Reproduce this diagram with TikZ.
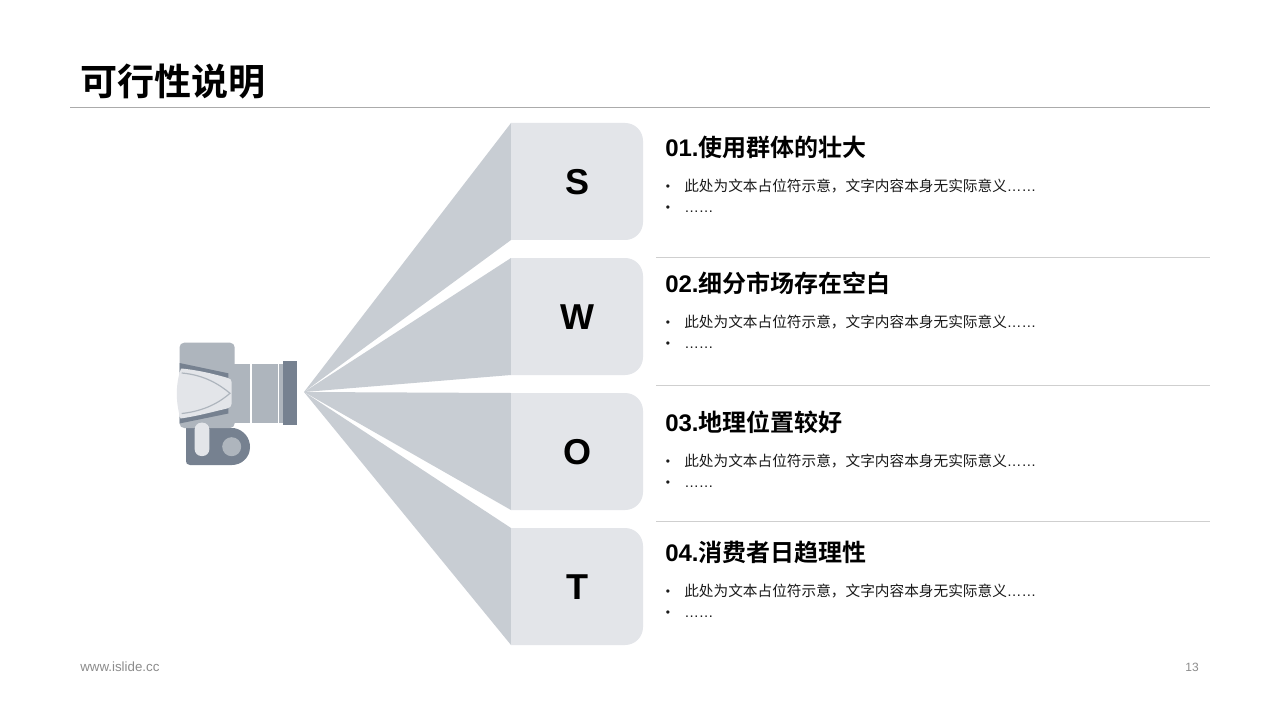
\documentclass[tikz,border=0pt]{standalone}
\usepackage{fontspec}
\setmainfont{Liberation Sans}
\newfontfamily\cjk{Noto Sans CJK SC}[BoldFont={Noto Sans CJK SC Bold}]
\definecolor{wedge}{HTML}{C8CDD3}
\definecolor{boxc}{HTML}{E3E5E9}
\definecolor{camlight}{HTML}{AEB5BD}
\definecolor{camdark}{HTML}{768190}
\definecolor{rulec}{HTML}{CFCFCF}
\definecolor{toprule}{HTML}{ABABAB}
\definecolor{txt}{HTML}{1A1A1A}
\definecolor{foot}{HTML}{8C8C8C}
\tikzset{
  x=0.75pt,y=-0.75pt,
  wedgeshape/.style={fill=wedge,draw=none},
  boxshape/.style={fill=boxc,draw=none},
  letter/.style={font=\bfseries\fontsize{27}{27}\selectfont,text=black,inner sep=0pt,anchor=center},
  heading/.style={font=\bfseries\fontsize{18}{18}\selectfont,text=black,inner sep=0pt,anchor=base west},
  body/.style={font=\fontsize{11}{12}\selectfont,text=txt,inner sep=0pt,anchor=base west},
  bulletmark/.style={font=\fontsize{9}{10}\selectfont,text=txt,inner sep=0pt,anchor=base west},
  footer/.style={font=\fontsize{10}{10}\selectfont,text=foot,inner sep=0pt,anchor=base west},
  rulel/.style={draw=rulec,line width=0.75pt},
}
\newcommand{\ph}{{\cjk 此处为文本占位符示意，文字内容本身无实际意义}……}
\begin{document}
\begin{tikzpicture}
\useasboundingbox (0,0) rectangle (1280,720);
\fill[white] (0,0) rectangle (1280,720);
% title
\node[inner sep=0pt,anchor=base west,font=\bfseries\fontsize{27.8}{28}\selectfont,text=black] (title) at (80,96) {\cjk 可行性说明};
\coordinate (tl) at (70,108); \coordinate (tr) at (1210,108);
\draw[draw=toprule,line width=0.75pt] (tl) -- (tr);
% wedges and boxes
\coordinate (apex) at (304,392);
\foreach \t/\b/\l/\n/\h/\hy in {
  123/240/S/s/{01.{\cjk 使用群体的壮大}}/157,
  258/375/W/w/{02.{\cjk 细分市场存在空白}}/292,
  393/510/O/o/{03.{\cjk 地理位置较好}}/431,
  528/645/T/t/{04.{\cjk 消费者日趋理性}}/561}{
  \fill[wedgeshape] (apex) -- (511,\t) -- (511,\b) -- cycle;
  \fill[boxshape] (511,\t) -- (625,\t) .. controls (635,\t) and (643,\t+8) .. (643,\t+18) -- (643,\b-18) .. controls (643,\b-8) and (635,\b) .. (625,\b) -- (511,\b) -- cycle;
  \node[letter] (\n box) at (577,{(\t+\b)/2+1}) {\l};
  \node[heading] (\n head) at (665,\hy) {\h};
  \node[bulletmark] (\n b1) at (665.5,\hy+34) {•};
  \node[body] (\n t1) at (684,\hy+35) {\ph};
  \node[bulletmark] (\n b2) at (665.5,\hy+55) {•};
  \node[body] (\n t2) at (684,\hy+56) {……};
}
% separators
\draw[rulel] (656,257.5) coordinate (a1) -- (1210,257.5) coordinate (a2);
\draw[rulel] (656,385) coordinate (b1) -- (1210,385) coordinate (b2);
\draw[rulel] (656,521) coordinate (c1) -- (1210,521) coordinate (c2);
% camera
\fill[camdark] (186,428) -- (234,428) .. controls (244,430) and (250,438) .. (250,447) .. controls (250,458) and (241,465) .. (232,465) -- (190,465) .. controls (187,465) and (186,463) .. (186,461) -- cycle;
\fill[camlight] (231.7,446.7) circle (9.5);
\fill[camlight,rounded corners=3.5pt] (179.5,428) -- (179.5,342.7) -- (234.7,342.7) -- (234.7,428) -- cycle;
\fill[camlight] (234,363.5) rectangle (250,422.5);
\fill[camlight] (251.5,363.5) rectangle (277.5,422.5);
\fill[camlight] (278.7,363.5) rectangle (282.7,422.5);
\fill[camdark] (282.7,361) rectangle (296.7,424.7);
\fill[camdark] (179.5,363) -- (228.3,373.3) -- (228.3,380) -- (179.5,372) -- cycle;
\fill[camdark] (179.5,417) -- (228.3,408) -- (228.3,413.5) -- (179.5,423.5) -- cycle;
\fill[boxc] (181,368.5) .. controls (198,370) and (214,374) .. (228,378) .. controls (230.5,378.8) and (231.5,380) .. (231.5,382) -- (231.5,404) .. controls (231.5,406.5) and (230,407.8) .. (227,408.5) .. controls (212,412) and (198,416) .. (180.5,418.5) .. controls (175.5,402) and (175.5,384) .. (181,368.5) -- cycle;
\draw[camlight,line width=0.9pt] (181.7,373) .. controls (205,375) and (220,385) .. (230,393.3) .. controls (220,402) and (205,411) .. (181.7,413.5);
\fill[boxc,rounded corners=5pt] (194.7,422.7) rectangle (209.3,456);
% footer
\node[footer] (foot) at (80,671) {www.islide.cc};
\node[footer,anchor=base east,font=\fontsize{9}{10}\selectfont] (page) at (1199,671) {13};
\end{tikzpicture}
\end{document}
